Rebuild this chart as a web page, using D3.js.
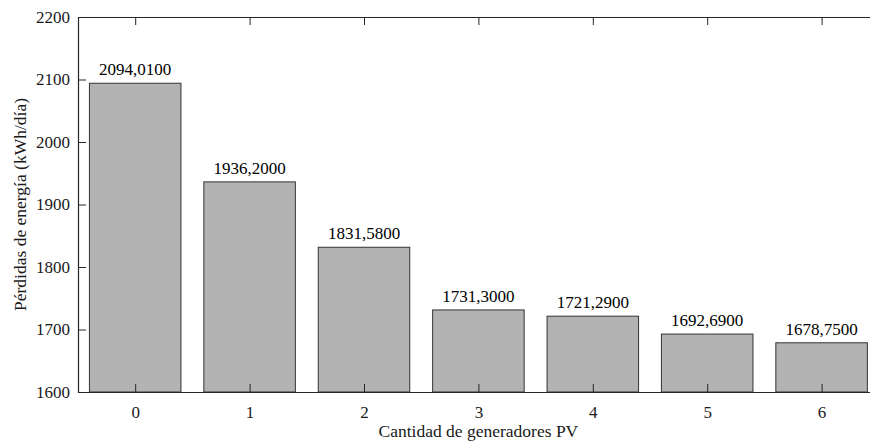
<!DOCTYPE html>
<html>
<head>
<meta charset="utf-8">
<script src="https://cdn.jsdelivr.net/npm/d3@7"></script>
<style>
  html, body { margin: 0; padding: 0; background: #fff; }
  svg { display: block; font-family: "Liberation Serif", "Times New Roman", serif; }
</style>
</head>
<body>
<svg id="chart" width="870" height="442"></svg>
<script>
// Energy losses per number of PV generators
const categories = [0, 1, 2, 3, 4, 5, 6];
const losses = [2094.01, 1936.2, 1831.58, 1731.3, 1721.29, 1692.69, 1678.75];
const valueLabels = ["2094,0100", "1936,2000", "1831,5800", "1731,3000", "1721,2900", "1692,6900", "1678,7500"];
const yTicks = [1600, 1700, 1800, 1900, 2000, 2100, 2200];

const svg = d3.select("#chart");
const margin = { left: 78, top: 17, bottom: 50 };
const step = 114.4;
const innerH = 442 - margin.top - margin.bottom;

const x = d3.scaleLinear().domain([-0.5, 6.5]).range([margin.left, margin.left + step * 7]);
const y = d3.scaleLinear().domain([1600, 2200]).range([margin.top + innerH, margin.top]);

const axisColor = "#262626";
const barWidth = 0.8;

// Bars
svg.append("g").selectAll("rect")
  .data(categories)
  .join("rect")
  .attr("x", (d) => x(d - barWidth / 2))
  .attr("width", (d) => x(d + barWidth / 2) - x(d - barWidth / 2))
  .attr("y", (d, i) => y(losses[i]))
  .attr("height", (d, i) => y(1600) - y(losses[i]))
  .attr("fill", "#b3b3b3")
  .attr("stroke", "#333333")
  .attr("stroke-width", 1);

// Value labels
svg.append("g").selectAll("text")
  .data(categories)
  .join("text")
  .attr("x", (d) => x(d))
  .attr("y", (d, i) => y(losses[i]) - 8)
  .attr("text-anchor", "middle")
  .attr("font-size", 17)
  .attr("fill", "#000")
  .text((d, i) => valueLabels[i]);

// Axes (ticks point inward)
const tickLen = 8;
const bottomAxis = d3.axisBottom(x).tickValues(categories).tickFormat(d3.format("d")).tickSizeInner(-tickLen).tickSizeOuter(0).tickPadding(14);
const topAxis = d3.axisTop(x).tickValues(categories).tickFormat("").tickSizeInner(-tickLen).tickSizeOuter(0);
const leftAxis = d3.axisLeft(y).tickValues(yTicks).tickFormat(d3.format("d")).tickSizeInner(-tickLen).tickSizeOuter(0).tickPadding(8);

function styleAxis(g) {
  g.select(".domain").attr("stroke", axisColor).attr("stroke-width", 1.2);
  g.selectAll(".tick line").attr("stroke", axisColor).attr("stroke-width", 1);
  g.selectAll(".tick text").attr("fill", "#1a1a1a").attr("font-size", 17)
    .attr("font-family", "Liberation Serif, Times New Roman, serif");
}

svg.append("g").attr("transform", `translate(0,${y(1600)})`).call(bottomAxis).call(styleAxis);
svg.append("g").attr("transform", `translate(0,${y(2200)})`).call(topAxis).call(styleAxis);
svg.append("g").attr("transform", `translate(${margin.left},0)`).call(leftAxis).call(styleAxis);

// Axis titles
svg.append("text")
  .attr("x", x(3))
  .attr("y", 437)
  .attr("text-anchor", "middle")
  .attr("font-size", 17.5)
  .attr("fill", "#1a1a1a")
  .text("Cantidad de generadores PV");

svg.append("text")
  .attr("transform", `translate(26,${(y(1600) + y(2200)) / 2}) rotate(-90)`)
  .attr("text-anchor", "middle")
  .attr("font-size", 17.5)
  .attr("fill", "#1a1a1a")
  .text("Pérdidas de energía (kWh/día)");
</script>
</body>
</html>
